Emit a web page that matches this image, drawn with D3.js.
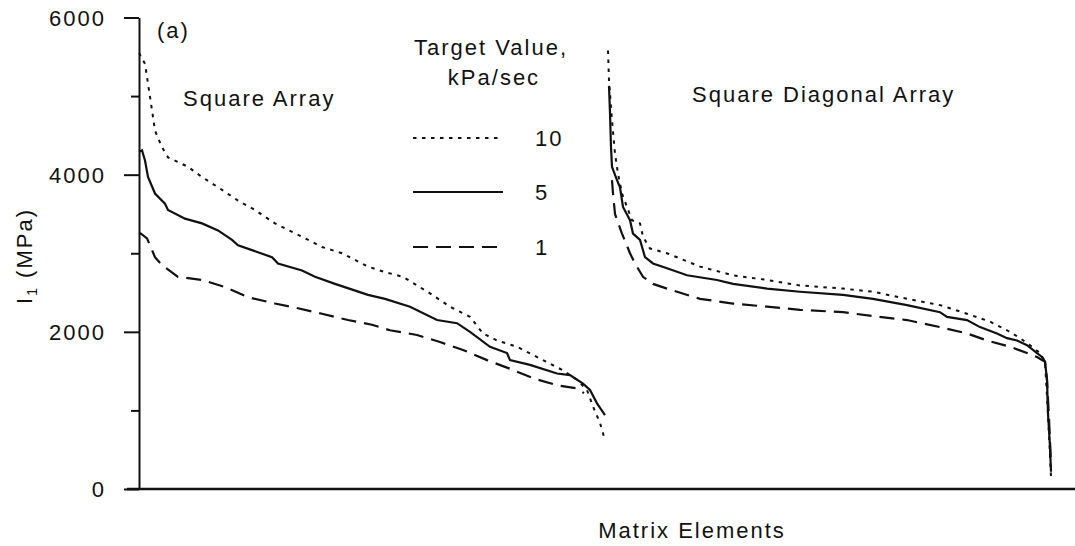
<!DOCTYPE html>
<html>
<head>
<meta charset="utf-8">
<script src="https://cdn.jsdelivr.net/npm/d3@7"></script>
<style>
  body { margin: 0; background: #fff; }
  svg text { font-family: "Liberation Sans", Arial, Helvetica, sans-serif; font-size: 22px; fill: #111; letter-spacing: 2px; }
</style>
</head>
<body>
<div id="chart"></div>
<script>
// I1 (MPa) vs matrix element rank
// [element, MPa]
var rates = ["10", "5", "1"];
var yTicks = [0, 2000, 4000, 6000];
var yMinor = [1000, 3000, 5000];

// square array
var square10 = [[0,5550],[6,5410],[9,5160],[13,4820],[16,4560],[23,4350],[29,4220],[49,4100],[63,3970],[79,3840],[99,3670],[116,3550],[136,3380],[163,3210],[183,3080],[203,3000],[229,2830],[246,2760],[264,2700],[291,2490],[311,2320],[331,2190],[344,1980],[358,1890],[378,1810],[404,1640],[424,1510],[438,1390],[448,1260],[454,1050],[461,840],[466,620]];
var square5 = [[0,4290],[3,4310],[6,4180],[9,3970],[16,3760],[26,3630],[29,3550],[46,3440],[63,3380],[79,3290],[93,3170],[99,3100],[113,3040],[133,2950],[139,2870],[163,2780],[176,2700],[196,2610],[229,2470],[246,2420],[271,2320],[298,2150],[318,2110],[331,2000],[351,1810],[368,1730],[371,1640],[391,1580],[418,1470],[431,1450],[444,1340],[451,1260],[458,1090],[466,940]];
var square1 = [[0,3260],[2,3250],[8,3190],[16,2950],[23,2850],[39,2700],[63,2660],[86,2570],[109,2440],[136,2360],[159,2300],[183,2230],[209,2150],[233,2090],[251,2020],[278,1960],[301,1870],[324,1770],[348,1640],[371,1530],[394,1410],[418,1320],[438,1280],[445,1220]];

// square diagonal array
var diag10 = [[469,5580],[470,5200],[473,4690],[476,4270],[479,4010],[483,3760],[488,3590],[493,3420],[501,3380],[504,3210],[511,3060],[528,3000],[561,2830],[594,2720],[628,2660],[661,2590],[704,2550],[734,2510],[768,2420],[801,2340],[828,2230],[851,2130],[868,2020],[881,1920],[891,1830],[901,1730],[906,1620],[909,960],[912,160]];
var diag5 = [[470,5130],[471,4780],[472,4350],[473,4100],[478,3930],[481,3840],[484,3590],[491,3420],[494,3250],[501,3170],[506,2950],[514,2870],[528,2810],[548,2720],[578,2660],[594,2610],[628,2550],[661,2510],[704,2470],[734,2420],[768,2340],[801,2250],[808,2190],[828,2150],[841,2060],[858,1980],[868,1920],[878,1890],[888,1830],[898,1730],[903,1680],[906,1620],[908,1390],[909,960],[911,540],[912,220]];
var diag1 = [[473,3930],[474,3760],[476,3500],[483,3250],[491,3000],[496,2870],[504,2700],[514,2610],[528,2550],[561,2420],[594,2360],[628,2320],[661,2280],[704,2250],[734,2200],[768,2150],[801,2060],[828,1980],[848,1890],[871,1810],[888,1730],[898,1680],[906,1620],[908,1390],[910,900],[912,300]];

var dashes = {"10": "3.5,5.5", "5": null, "1": "15,8"};

var width = 1075, height = 546;
var svg = d3.select("#chart").append("svg")
    .attr("width", width)
    .attr("height", height);

var x = d3.scaleLinear().domain([0, 936]).range([139, 1075]);
var y = d3.scaleLinear().domain([0, 6000]).range([489, 17.5]);

// y axis, major + minor ticks
var yAxis = d3.axisLeft(y).tickValues(yTicks).tickFormat(d3.format("d"))
    .tickSize(15).tickSizeOuter(0).tickPadding(18);
var gy = svg.append("g")
    .attr("transform", "translate(" + x(0) + ",0)")
    .call(yAxis);
gy.select(".domain").attr("stroke", "#111").attr("stroke-width", 2);
gy.selectAll(".tick line").attr("stroke", "#111").attr("stroke-width", 2);
gy.selectAll(".tick text").attr("font-size", null).attr("font-family", null).attr("dy", "0.36em");

var gm = svg.append("g")
    .attr("transform", "translate(" + x(0) + ",0)")
    .call(d3.axisLeft(y).tickValues(yMinor).tickSize(8).tickFormat(""));
gm.select(".domain").remove();
gm.selectAll(".tick line").attr("stroke", "#111").attr("stroke-width", 2);

// x axis: plain line, no ticks
svg.append("line")
    .attr("x1", x(-12)).attr("x2", x(936))
    .attr("y1", y(0)).attr("y2", y(0))
    .attr("stroke", "#111").attr("stroke-width", 2.5);

var line = d3.line()
    .x(function (d) { return x(d[0]); })
    .y(function (d) { return y(d[1]); });

var series = [
    {rate: "10", data: square10}, {rate: "5", data: square5}, {rate: "1", data: square1},
    {rate: "10", data: diag10}, {rate: "5", data: diag5}, {rate: "1", data: diag1}
];

svg.selectAll("path.curve")
    .data(series)
    .enter().append("path")
    .attr("class", "curve")
    .attr("d", function (d) { return line(d.data); })
    .attr("fill", "none")
    .attr("stroke", "#111")
    .attr("stroke-width", function (d) { return d.rate == "10" ? 2 : 2.2; })
    .attr("stroke-dasharray", function (d) { return dashes[d.rate]; });

// legend
var leg = svg.append("g");
leg.append("text").attr("x", 491).attr("y", 55).attr("text-anchor", "middle").text("Target Value,");
leg.append("text").attr("x", 494).attr("y", 85).attr("text-anchor", "middle").text("kPa/sec");
var legY = [138, 192, 247];
rates.forEach(function (r, i) {
    leg.append("line")
        .attr("x1", 413).attr("x2", 503)
        .attr("y1", legY[i]).attr("y2", legY[i])
        .attr("stroke", "#111").attr("stroke-width", 2)
        .attr("stroke-dasharray", dashes[r]);
    leg.append("text").attr("x", 535).attr("y", legY[i] + 8).text(r);
});

// labels
svg.append("text").attr("x", 157).attr("y", 38).text("(a)");
svg.append("text").attr("x", 183).attr("y", 106).text("Square Array");
svg.append("text").attr("x", 692).attr("y", 102).text("Square Diagonal Array");
svg.append("text").attr("x", 692).attr("y", 538).attr("text-anchor", "middle").text("Matrix Elements");

var yl = svg.append("text")
    .attr("transform", "translate(32,256) rotate(-90)")
    .attr("text-anchor", "middle");
yl.append("tspan").text("I");
yl.append("tspan").attr("font-size", "14px").attr("dy", "5").text("1");
yl.append("tspan").attr("dy", "-5").text(" (MPa)");
</script>
</body>
</html>
